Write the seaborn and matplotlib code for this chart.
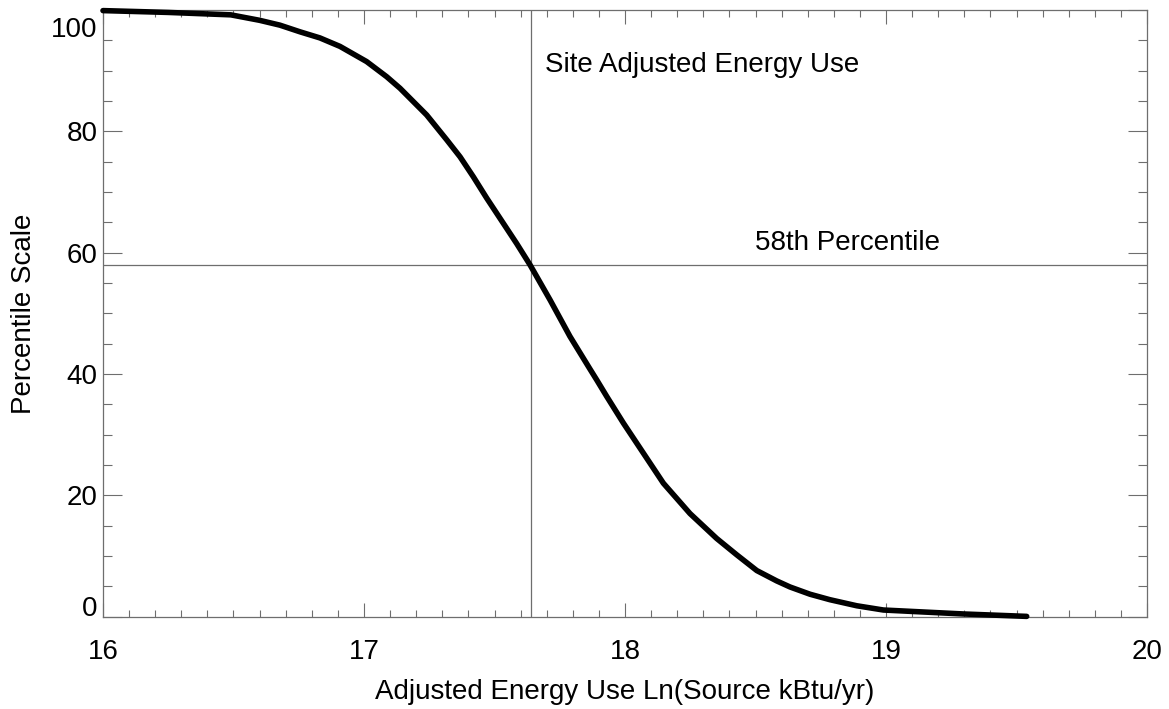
import matplotlib
matplotlib.use('Agg')
import matplotlib.pyplot as plt
from matplotlib.ticker import MultipleLocator
from matplotlib.transforms import ScaledTranslation
import seaborn as sns
import pandas as pd

# ── data ─────────────────────────────────────────────────────────────────
energy_ln = [16.0, 16.25, 16.49, 16.60, 16.678, 16.755, 16.831, 16.908, 17.010,
             17.087, 17.138, 17.240, 17.317, 17.368, 17.419, 17.470, 17.585, 17.636,
             17.713, 17.789, 17.866, 17.892, 17.930, 17.994, 18.096, 18.147, 18.249,
             18.351, 18.428, 18.505, 18.581, 18.632, 18.709, 18.785, 18.888, 18.990,
             19.296, 19.539]
percentile = [99.9, 99.6, 99.2, 98.3, 97.5, 96.4, 95.4, 94.0, 91.5,
              89.0, 87.1, 82.7, 78.6, 75.8, 72.5, 69.0, 61.5, 58.0,
              52.2, 46.2, 40.8, 39.0, 36.3, 31.9, 25.3, 22.0, 17.0,
              12.9, 10.2, 7.6, 5.9, 4.9, 3.7, 2.8, 1.8, 1.1,
              0.45, 0.05]
site_value = 17.64
site_percentile = 58
x_ticks = [16, 17, 18, 19, 20]
y_ticks = [0, 20, 40, 60, 80, 100]

df = pd.DataFrame({'energy': energy_ln, 'pct': percentile})

sns.set_theme(style='white')
plt.rcParams['font.family'] = ['Liberation Sans', 'DejaVu Sans']
plt.rcParams['text.color'] = 'black'
plt.rcParams['axes.labelcolor'] = 'black'

fig = plt.figure(figsize=(11.69, 7.09), dpi=100)
ax = fig.add_axes([0.0881, 0.1302, 0.8931, 0.8557])

grey = '#6e6e6e'
ax.axvline(site_value, color=grey, lw=0.9, zorder=1)
ax.axhline(site_percentile, color=grey, lw=0.9, zorder=1)
sns.lineplot(data=df, x='energy', y='pct', ax=ax, color='black', linewidth=4,
             solid_capstyle='round', solid_joinstyle='round', zorder=3, clip_on=False)

ax.set_xlim(16, 20)
ax.set_ylim(0, 100)
ax.set_xticks(x_ticks)
ax.set_yticks(y_ticks)
ax.xaxis.set_minor_locator(MultipleLocator(0.1))
ax.yaxis.set_minor_locator(MultipleLocator(5))

ax.tick_params(axis='both', which='both', direction='in', colors=grey,
               labelcolor='black', labelsize=20, width=0.8,
               top=True, right=True, bottom=True, left=True)
ax.tick_params(axis='x', which='major', length=10, pad=16)
ax.tick_params(axis='x', which='minor', length=5)
ax.tick_params(axis='y', which='major', length=14, pad=4)
ax.tick_params(axis='y', which='minor', length=6.5)
for sp in ax.spines.values():
    sp.set_color(grey)
    sp.set_linewidth(0.9)

# end labels pulled inside the axis range, as in the original
ylabels = ax.get_yticklabels()
ylabels[0].set_va('bottom')
ylabels[0].set_transform(ylabels[0].get_transform() + ScaledTranslation(0, -4/72, fig.dpi_scale_trans))
ylabels[-1].set_va('top')
ylabels[-1].set_transform(ylabels[-1].get_transform() + ScaledTranslation(0, -5/72, fig.dpi_scale_trans))

ax.set_xlabel('Adjusted Energy Use Ln(Source kBtu/yr)', fontsize=20, labelpad=10)
ax.set_ylabel('Percentile Scale', fontsize=20, labelpad=10)

ax.text(17.693, 91, 'Site Adjusted Energy Use', fontsize=20, va='center', ha='left')
ax.text(18.498, 61.6, '58th Percentile', fontsize=20, va='center', ha='left')

fig.savefig('out.png', dpi=100)
plt.close(fig)
